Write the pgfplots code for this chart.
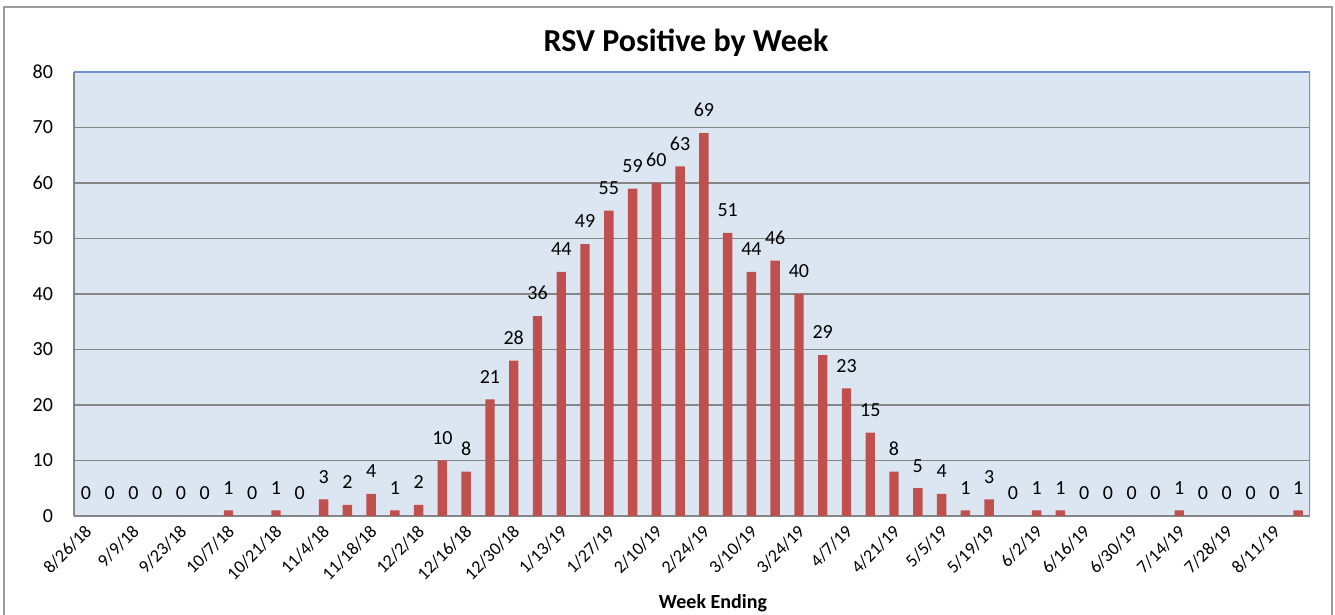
\documentclass[border=0pt]{standalone}
\usepackage{pgfplots}
\pgfplotsset{compat=1.18}
\usepackage{fontspec}
\setmainfont{Carlito}

\definecolor{barred}{HTML}{C0504D}
\definecolor{plotbg}{HTML}{DCE6F2}
\definecolor{plotedge}{HTML}{6F93C8}
\definecolor{axgray}{HTML}{868686}
\definecolor{framegray}{HTML}{9A9A9A}

\begin{document}
\begin{tikzpicture}
\useasboundingbox (-37pt,-49.5pt) rectangle (630.5pt,258pt);
\draw[framegray, line width=0.8pt] (-35pt,-60pt) -- (-35pt,254.5pt) -- (628.9pt,254.5pt) -- (628.9pt,-60pt);
\begin{axis}[
  scale only axis,
  width=618pt, height=222pt,
  ybar, bar width=4.7pt,
  xmin=-0.5, xmax=51.5,
  ymin=0, ymax=80,
  ytick={0,10,...,80},
  xtick={0,2,...,50},
  xticklabels={8/26/18,9/9/18,9/23/18,10/7/18,10/21/18,11/4/18,11/18/18,12/2/18,12/16/18,12/30/18,1/13/19,1/27/19,2/10/19,2/24/19,3/10/19,3/24/19,4/7/19,4/21/19,5/5/19,5/19/19,6/2/19,6/16/19,6/30/19,7/14/19,7/28/19,8/11/19},
  major tick length=0pt,
  axis x line*=bottom, axis y line*=left,
  axis line style={axgray, line width=0.8pt},
  axis background/.style={fill=plotbg},
  ymajorgrids, grid style={axgray, line width=0.75pt},
  /pgf/number format/assume math mode=true,
  yticklabel style={font=\fontsize{10}{12}\selectfont, xshift=-7pt},
  xticklabel style={font=\fontsize{9}{11}\selectfont, rotate=45, anchor=north east, xshift=0pt, yshift=1.5pt},
  title={RSV Positive by Week},
  title style={font=\bfseries\fontsize{16}{18}\selectfont, at={(axis description cs:0.5,1)}, anchor=base, yshift=4pt, xshift=-3pt},
  xlabel={Week Ending},
  xlabel style={font=\bfseries\fontsize{10}{12}\selectfont, at={(axis description cs:0.5,0)}, anchor=base, yshift=-46.5pt, xshift=10.5pt},
  nodes near coords,
  every node near coord/.append style={font=\fontsize{10}{12}\selectfont, text=black, yshift=4.5pt},
]
\addplot[fill=barred, draw=none] coordinates {
(0,0) (1,0) (2,0) (3,0) (4,0) (5,0) (6,1) (7,0) (8,1) (9,0)
(10,3) (11,2) (12,4) (13,1) (14,2) (15,10) (16,8) (17,21) (18,28) (19,36)
(20,44) (21,49) (22,55) (23,59) (24,60) (25,63) (26,69) (27,51) (28,44) (29,46)
(30,40) (31,29) (32,23) (33,15) (34,8) (35,5) (36,4) (37,1) (38,3) (39,0)
(40,1) (41,1) (42,0) (43,0) (44,0) (45,0) (46,1) (47,0) (48,0) (49,0)
(50,0) (51,1)
};
\draw[plotedge, line width=0.9pt] (rel axis cs:0,1) -- (rel axis cs:1,1) -- (rel axis cs:1,0);
\end{axis}
\end{tikzpicture}
\end{document}
